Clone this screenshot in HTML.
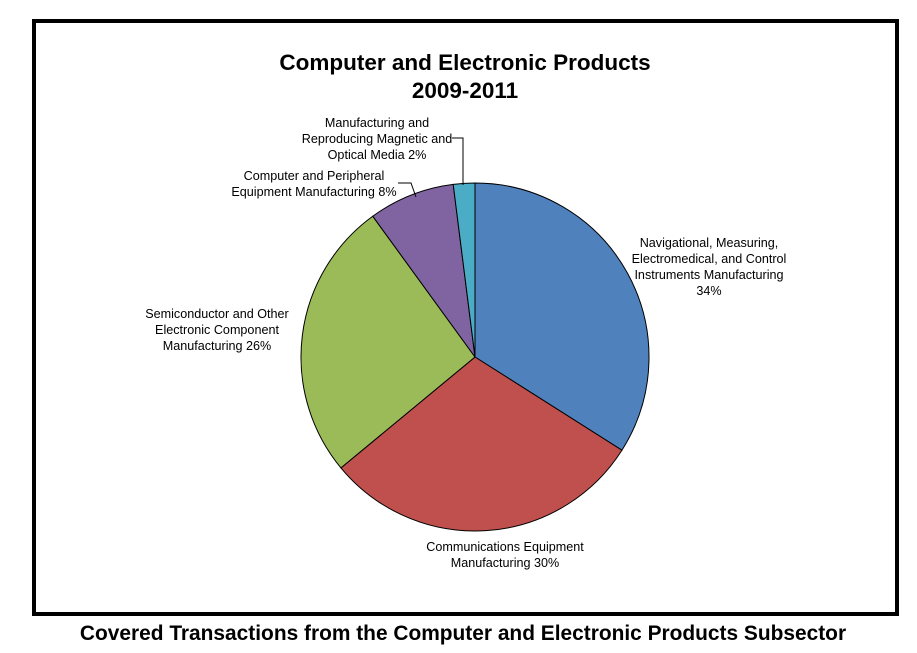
<!DOCTYPE html>
<html><head><meta charset="utf-8"><style>
body{margin:0;background:#fff;}
svg{display:block;font-family:"Liberation Sans",Arial,sans-serif;}
</style></head><body>
<svg id="chart" width="917" height="653" viewBox="0 0 917 653">
<rect x="34" y="21" width="863" height="593" fill="#fff" stroke="#000" stroke-width="4"/>
<text x="465" y="70" text-anchor="middle" font-size="22.5" font-weight="bold">Computer and Electronic Products</text>
<text x="465" y="98" text-anchor="middle" font-size="22.5" font-weight="bold">2009-2011</text>
<g id="slices"></g>
<g id="labels" font-size="12.6"></g>
<polyline points="452,138 463,138 463,185" fill="none" stroke="#000" stroke-width="1"/>
<polyline points="398,183 411,183 416,197" fill="none" stroke="#000" stroke-width="1"/>
<text x="463" y="640" text-anchor="middle" font-size="20.9" font-weight="bold">Covered Transactions from the Computer and Electronic Products Subsector</text>
</svg>
<script>
const categories = ["Navigational, Measuring, Electromedical, and Control Instruments Manufacturing","Communications Equipment Manufacturing","Semiconductor and Other Electronic Component Manufacturing","Computer and Peripheral Equipment Manufacturing","Manufacturing and Reproducing Magnetic and Optical Media"];
const values = [34, 30, 26, 8, 2];
const colors = ["#4f81bd","#c0504d","#9bbb59","#8064a2","#4bacc6"];
const labelLines = [
 ["Navigational, Measuring,","Electromedical, and Control","Instruments Manufacturing","34%"],
 ["Communications Equipment","Manufacturing 30%"],
 ["Semiconductor and Other","Electronic Component","Manufacturing 26%"],
 ["Computer and Peripheral","Equipment Manufacturing 8%"],
 ["Manufacturing and","Reproducing Magnetic and","Optical Media 2%"]
];
const cx=475, cy=357, r=174;
const labelPos=[[709,247,"middle"],[505,551,"middle"],[217,318,"middle"],[314,180,"middle"],[377,127,"middle"]];
const ns="http://www.w3.org/2000/svg";
const total=values.reduce((a,b)=>a+b,0);
let a0=0;
const sg=document.getElementById('slices'), lg=document.getElementById('labels');
values.forEach((v,i)=>{
  const a1=a0+v/total*2*Math.PI;
  const p=(a)=>[cx+r*Math.sin(a), cy-r*Math.cos(a)];
  const [x0,y0]=p(a0),[x1,y1]=p(a1);
  const path=document.createElementNS(ns,'path');
  path.setAttribute('d',`M${cx},${cy} L${x0},${y0} A${r},${r} 0 ${a1-a0>Math.PI?1:0} 1 ${x1},${y1} Z`);
  path.setAttribute('fill',colors[i]);
  path.setAttribute('stroke','#000');
  path.setAttribute('stroke-width','1');
  
  
  sg.appendChild(path);
  const t=document.createElementNS(ns,'text');
  t.setAttribute('text-anchor',labelPos[i][2]);
  
  
  labelLines[i].forEach((ln,j)=>{
    const s=document.createElementNS(ns,'tspan');
    s.setAttribute('x',labelPos[i][0]);
    s.setAttribute('y',labelPos[i][1]+j*16);
    s.textContent=ln;
    t.appendChild(s);
  });
  lg.appendChild(t);
  a0=a1;
});
</script>
</body></html>
